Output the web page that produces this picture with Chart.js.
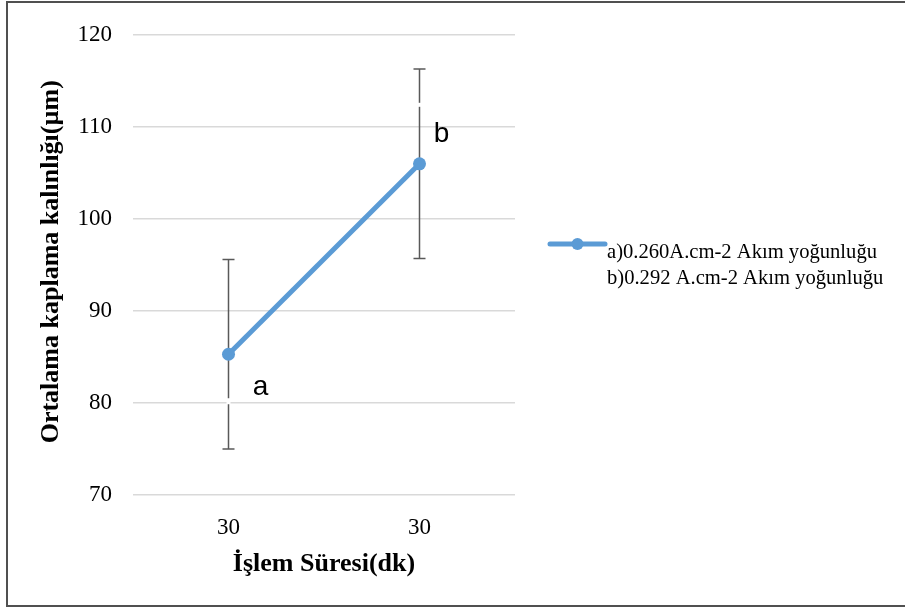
<!DOCTYPE html>
<html><head><meta charset="utf-8">
<script src="https://cdn.jsdelivr.net/npm/chart.js@4"></script>
<style>html,body{margin:0;padding:0;background:#fff;overflow:hidden}#wrap{width:905px;height:608px;position:relative}canvas{display:block}</style>
</head><body><div id="wrap"><canvas id="c" width="905" height="608"></canvas></div>
<script>
// ---- data ----
const categories = ['30', '30'];
const thicknessValues = [85.3, 106.0];
const errorValues = [10.3, 10.3];
const pointLetters = ['a', 'b'];
const yTickValues = [70, 80, 90, 100, 110, 120];
const legendLines = ['a)0.260A.cm-2 Akım yoğunluğu', 'b)0.292 A.cm-2 Akım yoğunluğu'];
const seriesName = 'Ortalama kaplama kalınlığı';
const xTitle = 'İşlem Süresi(dk)';
const yTitle = 'Ortalama kaplama kalınlığı(µm)';

const LINE_COLOR = '#5B9BD5';
const SERIF = '"Liberation Serif", "Times New Roman", serif';
const SANS = '"Liberation Sans", Arial, sans-serif';

const bgPlugin = {
  id: 'bg',
  beforeDraw(chart) {
    const ctx = chart.ctx;
    ctx.save();
    ctx.fillStyle = '#fff';
    ctx.fillRect(0, 0, chart.width, chart.height);
    ctx.restore();
  },
  afterDraw(chart) {
    const ctx = chart.ctx;
    ctx.save();
    ctx.strokeStyle = '#505050';
    ctx.lineWidth = 2;
    ctx.strokeRect(7, 2, chart.width + 10, chart.height - 4);
    ctx.restore();
  }
};

const errorBarPlugin = {
  id: 'errorBars',
  beforeDatasetsDraw(chart) {
    const ctx = chart.ctx;
    const xs = chart.scales.x, ys = chart.scales.y;
    ctx.save();
    ctx.strokeStyle = '#595959';
    ctx.lineWidth = 1.5;
    thicknessValues.forEach((v, i) => {
      const x = xs.getPixelForValue(i);
      const yT = ys.getPixelForValue(v + errorValues[i]);
      const yB = ys.getPixelForValue(v - errorValues[i]);
      ctx.beginPath();
      ctx.moveTo(x, yT); ctx.lineTo(x, yB);
      ctx.moveTo(x - 6, yT); ctx.lineTo(x + 6, yT);
      ctx.moveTo(x - 6, yB); ctx.lineTo(x + 6, yB);
      ctx.stroke();
    });
    ctx.restore();
  }
};

const letterPlugin = {
  id: 'letters',
  afterDatasetsDraw(chart) {
    const ctx = chart.ctx;
    const meta = chart.getDatasetMeta(0);
    const offsets = [{dx: 32, dy: 41, gap: [44, 50]}, {dx: 22, dy: -22, gap: [-61, -57]}];
    ctx.save();
    pointLetters.forEach((t, i) => {
      const p = meta.data[i];
      const o = offsets[i];
      ctx.fillStyle = '#fff';
      ctx.fillRect(p.x - 2, p.y + o.gap[0], 4, o.gap[1] - o.gap[0]);
      ctx.fillStyle = '#000';
      ctx.font = '28px ' + SANS;
      ctx.textAlign = 'center';
      ctx.textBaseline = 'alphabetic';
      ctx.fillText(t, p.x + o.dx, p.y + o.dy);
    });
    ctx.restore();
  }
};

const legendPlugin = {
  id: 'customLegend',
  afterDraw(chart) {
    const ctx = chart.ctx;
    const a = chart.chartArea;
    const x0 = a.right + 35, x1 = a.right + 90, y = a.top + 209;
    ctx.save();
    ctx.strokeStyle = LINE_COLOR;
    ctx.lineWidth = 5;
    ctx.lineCap = 'round';
    ctx.beginPath(); ctx.moveTo(x0, y); ctx.lineTo(x1, y); ctx.stroke();
    ctx.fillStyle = LINE_COLOR;
    ctx.beginPath(); ctx.arc((x0 + x1) / 2, y, 6, 0, Math.PI * 2); ctx.fill();
    ctx.fillStyle = '#000';
    ctx.font = '20.6px ' + SERIF;
    ctx.textAlign = 'left';
    ctx.textBaseline = 'alphabetic';
    legendLines.forEach((t, i) => ctx.fillText(t, x1 + 2, y + 14 + i * 26));
    ctx.restore();
  }
};

new Chart(document.getElementById('c'), {
  type: 'line',
  data: {
    labels: categories,
    datasets: [{
      label: seriesName,
      data: thicknessValues,
      borderColor: LINE_COLOR,
      backgroundColor: LINE_COLOR,
      borderWidth: 5,
      pointRadius: 6.5,
      pointHoverRadius: 6.5,
      pointBorderWidth: 0,
      pointBackgroundColor: LINE_COLOR,
      tension: 0
    }]
  },
  options: {
    responsive: false,
    animation: false,
    events: [],
    layout: {padding: {left: 0, right: 390, top: 35, bottom: 0}},
    plugins: {legend: {display: false}, tooltip: {enabled: false}},
    scales: {
      x: {
        offset: true,
        grid: {display: false, drawTicks: false},
        border: {display: false},
        ticks: {font: {family: SERIF, size: 23}, color: '#000', padding: 19},
        title: {display: true, text: xTitle, color: '#000',
          font: {family: SERIF, size: 26, weight: 'bold'}, padding: {top: 0, bottom: 28}},
        afterFit(s) { s.height = 113; }
      },
      y: {
        min: 70, max: 120,
        afterBuildTicks(s) { s.ticks = yTickValues.map(v => ({value: v})); },
        grid: {color: '#d9d9d9', lineWidth: 1.5, drawTicks: false},
        border: {display: false},
        ticks: {font: {family: SERIF, size: 23}, color: '#000', padding: 21},
        title: {display: true, text: ' ' + yTitle, color: '#000',
          font: {family: SERIF, size: 26, weight: 'bold'}, padding: {top: 36, bottom: 0}},
        afterFit(s) { s.width = 133; }
      }
    }
  },
  plugins: [bgPlugin, errorBarPlugin, letterPlugin, legendPlugin]
});
</script>
</body></html>
